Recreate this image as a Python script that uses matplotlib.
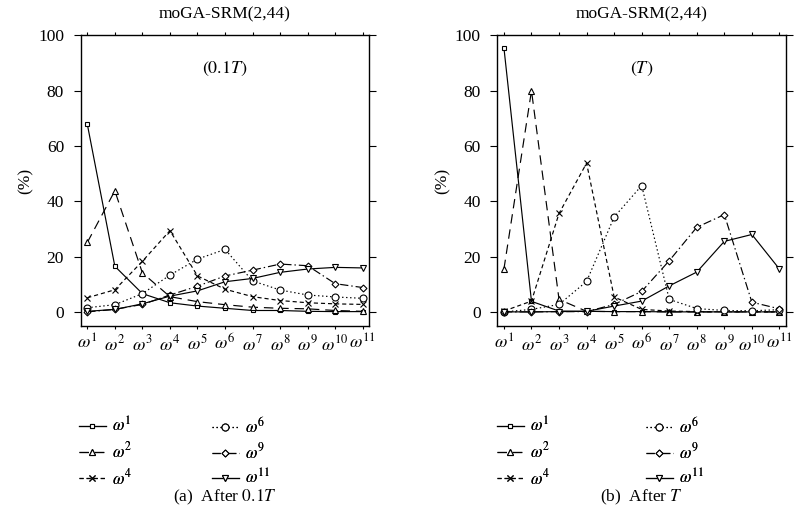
import matplotlib
matplotlib.use("Agg")
import matplotlib.pyplot as plt

plt.rcParams['font.family'] = ['Liberation Serif', 'DejaVu Serif']
plt.rcParams['mathtext.fontset'] = 'stix'

categories = list(range(1, 12))
tick_labels = [r'$\omega^{%d}$' % i for i in categories]
series_names = [r'$\omega^{1}$', r'$\omega^{2}$', r'$\omega^{4}$',
                r'$\omega^{6}$', r'$\omega^{9}$', r'$\omega^{11}$']

# After 0.1T
a_w1 = [67.9, 16.5, 6.6, 3.3, 2.1, 1.3, 0.5, 0.5, 0.2, 0.1, 0.1]
a_w2 = [25.1, 43.8, 14.1, 5.5, 3.7, 2.6, 1.7, 1.3, 1.1, 0.5, 0.2]
a_w4 = [5.1, 8.0, 18.3, 29.4, 13.0, 8.2, 5.5, 4.1, 3.3, 2.9, 2.7]
a_w6 = [1.5, 2.6, 6.6, 13.3, 19.1, 22.6, 11.2, 7.9, 6.1, 5.4, 4.9]
a_w9 = [0.0, 0.9, 2.7, 6.1, 9.3, 13.0, 15.1, 17.3, 16.7, 10.2, 8.8]
a_w11 = [0.2, 0.9, 2.9, 5.7, 7.6, 10.9, 12.1, 14.3, 15.5, 16.1, 15.9]

# After T
b_w1 = [95.5, 3.8, 0.3, 0.2, 0.1, 0.1, 0.0, 0.0, 0.0, 0.0, 0.0]
b_w2 = [15.5, 80.0, 4.5, 0.2, 0.1, 0.1, 0.0, 0.0, 0.0, 0.0, 0.0]
b_w4 = [0.3, 3.9, 35.6, 53.8, 5.4, 0.9, 0.3, 0.1, 0.0, 0.0, 0.0]
b_w6 = [0.0, 0.9, 2.7, 11.0, 34.3, 45.7, 4.5, 1.2, 0.5, 0.4, 0.8]
b_w9 = [0.0, 0.0, 0.1, 0.1, 2.7, 7.4, 18.5, 30.6, 35.2, 3.5, 1.1]
b_w11 = [0.0, 0.0, 0.1, 0.2, 2.1, 3.9, 9.4, 14.4, 25.5, 28.0, 15.5]

styles = [
    dict(linestyle='-', marker='s', ms=3.5),
    dict(linestyle=(0, (8, 5)), marker='^', ms=4),
    dict(linestyle=(0, (3.5, 2.5)), marker='x', ms=4.5),
    dict(linestyle=(0, (1.2, 2.2)), marker='o', ms=5),
    dict(linestyle=(0, (7, 2.5, 1.2, 2.5)), marker='D', ms=3.5),
    dict(linestyle='-', marker='v', ms=4.5),
]

fig = plt.figure(figsize=(8.02, 5.16), dpi=100)

panels = [
    ([a_w1, a_w2, a_w4, a_w6, a_w9, a_w11], r'$(0.1T)$', r'(a)  After $0.1T$',
     0.1006, (79, 212)),
    ([b_w1, b_w2, b_w4, b_w6, b_w9, b_w11], r'$(T)$', r'(b)  After $T$',
     0.6201, (497, 646)),
]

for data, inner, caption, x0, legx in panels:
    ax = fig.add_axes([x0, 0.3688, 0.3600, 0.5625])
    handles = []
    for vals, st, name in zip(data, styles, series_names):
        h, = ax.plot(categories, vals, color='black', lw=0.85,
                     linestyle=st['linestyle'], marker=st['marker'],
                     ms=st['ms'], markerfacecolor='white',
                     markeredgecolor='black', markeredgewidth=0.8,
                     label=name)
        handles.append(h)
    ax.set_xlim(0.76, 11.24)
    ax.set_ylim(-5, 100)
    ax.set_xticks(categories)
    ax.set_xticklabels(tick_labels, fontsize=13)
    ax.set_yticks([0, 20, 40, 60, 80, 100])
    ax.tick_params(axis='y', direction='out', length=5, width=0.8,
                   labelsize=12.5, right=True, pad=7)
    ax.tick_params(axis='x', direction='out', length=2.5, width=0.8,
                   top=True, pad=3.5)
    for sp in ax.spines.values():
        sp.set_linewidth(1.0)
    ax.set_ylabel('(%)', fontsize=12.5, labelpad=3)
    ax.set_title('moGA-SRM(2,44)', fontsize=12.5, pad=12)
    ax.text(0.5, 0.885, inner, transform=ax.transAxes, ha='center',
            va='center', fontsize=13)
    for col in range(2):
        leg = fig.legend(handles=handles[3 * col:3 * col + 3], ncol=1,
                         loc='upper left',
                         bbox_to_anchor=(legx[col] / 802, 0.193),
                         frameon=False, fontsize=12, handlelength=1.6,
                         labelspacing=0.37, handletextpad=0.4,
                         borderpad=0, borderaxespad=0)
        fig.add_artist(leg)
    fig.text(x0 + 0.18, 0.037, caption, ha='center', va='center',
             fontsize=12.5)

fig.savefig('out.png', dpi=100)
